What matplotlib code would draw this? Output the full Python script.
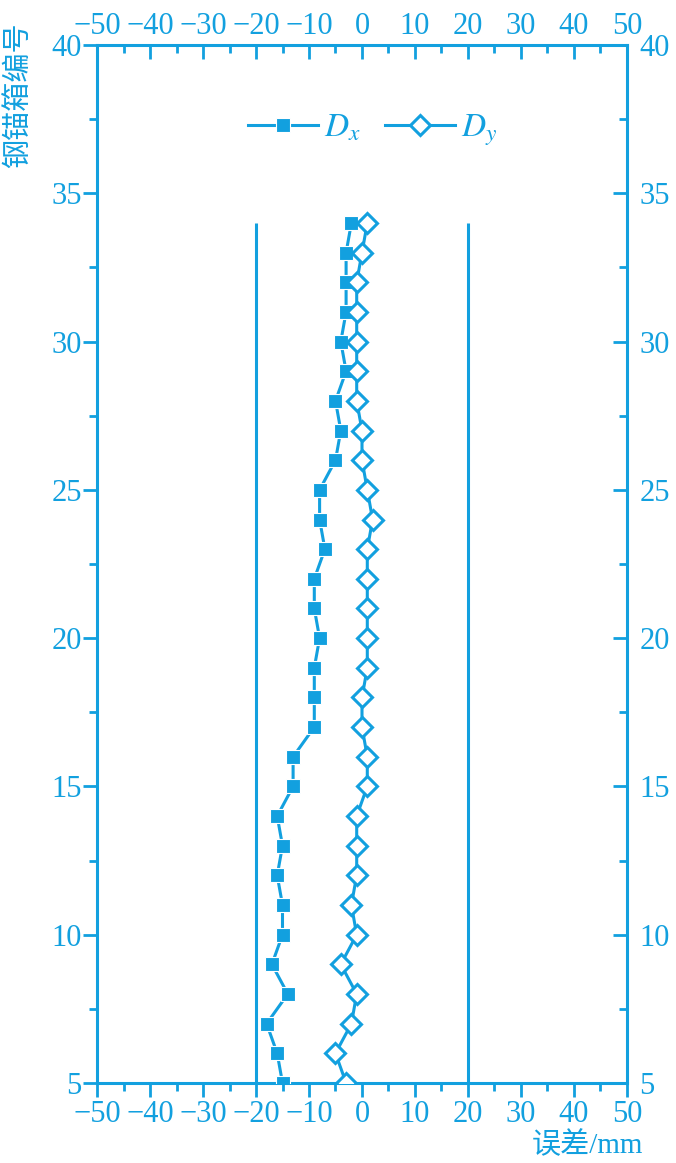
import numpy as np
import matplotlib
matplotlib.use('Agg')
import matplotlib.pyplot as plt
from matplotlib.ticker import MultipleLocator

# data
box_no = [5, 6, 7, 8, 9, 10, 11, 12, 13, 14, 15, 16, 17, 18, 19,
          20, 21, 22, 23, 24, 25, 26, 27, 28, 29, 30, 31, 32, 33, 34]
dx = [-15, -16, -18, -14, -17, -15, -15, -16, -15, -16, -13, -13, -9, -9, -9,
      -8, -9, -9, -7, -8, -8, -5, -4, -5, -3, -4, -3, -3, -3, -2]
dy = [-3, -5, -2, -1, -4, -1, -2, -1, -1, -1, 1, 1, 0, 0, 1,
      1, 1, 1, 1, 2, 1, 0, 0, -1, -1, -1, -1, -1, 0, 1]
limit_lines = [-20, 20]

blue = '#12A0DF'
serif = ['Liberation Serif', 'Noto Sans CJK SC']

plt.rcParams['font.family'] = serif
plt.rcParams['mathtext.fontset'] = 'stix'
plt.rcParams['axes.unicode_minus'] = True


def main():
    fig = plt.figure(figsize=(6.76, 11.63), dpi=100)
    ax = fig.add_axes([0.1435, 0.0688, 0.784, 0.8925])

    ax.vlines(limit_lines, 5, 34, color=blue, lw=2.2)

    ax.plot(dx, box_no, color=blue, lw=2.2, marker='s', ms=10,
            mfc=blue, mec='white', mew=0.8, label=r'$D_x$', zorder=3)
    ax.plot(dy, box_no, color=blue, lw=2.2, marker='D', ms=10.5,
            mfc='white', mec=blue, mew=2.2, label=r'$D_y$', zorder=3)

    ax.set_xlim(-50, 50)
    ax.set_ylim(5, 40)

    for s in ax.spines.values():
        s.set_color(blue)
        s.set_linewidth(2.2)

    ax.xaxis.set_major_locator(MultipleLocator(10))
    ax.xaxis.set_minor_locator(MultipleLocator(5))
    ax.yaxis.set_major_locator(MultipleLocator(5))
    ax.yaxis.set_minor_locator(MultipleLocator(2.5))
    ax.tick_params(which='both', direction='out', color=blue, labelcolor=blue,
                   labelsize=22, width=2)
    ax.tick_params(which='major', length=10)
    ax.tick_params(which='minor', length=6)
    ax.tick_params(axis='x', pad=2)
    ax.tick_params(axis='y', pad=1)

    top = ax.secondary_xaxis('top')
    top.xaxis.set_major_locator(MultipleLocator(10))
    top.xaxis.set_minor_locator(MultipleLocator(5))
    top.spines['top'].set_visible(False)
    top.tick_params(which='both', direction='in', color=blue, labelcolor=blue,
                    labelsize=22, width=2, pad=3)
    top.tick_params(which='major', length=10)
    top.tick_params(which='minor', length=6)

    right = ax.secondary_yaxis('right')
    right.yaxis.set_major_locator(MultipleLocator(5))
    right.yaxis.set_minor_locator(MultipleLocator(2.5))
    right.spines['right'].set_visible(False)
    right.tick_params(which='both', direction='in', color=blue, labelcolor=blue,
                      labelsize=22, width=2, pad=9)
    right.tick_params(which='major', length=10)
    right.tick_params(which='minor', length=6)

    leg = ax.legend(loc='center', bbox_to_anchor=(0.52, 0.918), ncol=2,
                    frameon=False, fontsize=24, handlelength=2.1,
                    handletextpad=0.2, columnspacing=0.7)
    for t in leg.get_texts():
        t.set_color(blue)

    fig.text(0.028, 1 - 22 / 1163, '钢锚箱编号', rotation=90, ha='center',
             va='top', fontsize=21, color=blue, family=['Noto Sans CJK SC'])
    fig.text(643 / 676, 10 / 1163, '误差/mm', ha='right', va='baseline',
             fontsize=21, color=blue, family=serif)

    fig.savefig('out.png', dpi=100)


if __name__ == "__main__":
    main()
